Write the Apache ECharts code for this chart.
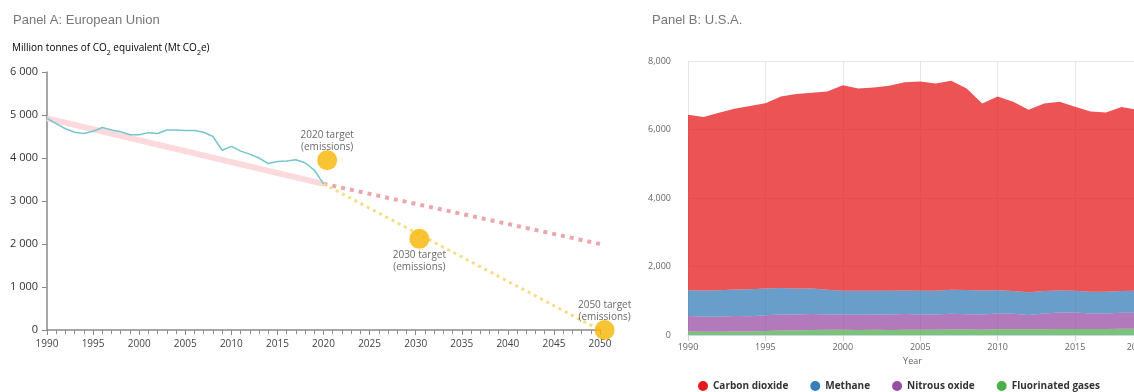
<!DOCTYPE html>
<html>
<head>
<meta charset="utf-8">
<script src="https://cdn.jsdelivr.net/npm/echarts@6/dist/echarts.min.js"></script>
<style>
  html, body { margin: 0; padding: 0; background: #fff; }
  #chart { width: 1134px; height: 392px; }
</style>
</head>
<body>
<div id="chart"></div>
<script>
// Panel A: EU emissions (Mt CO2e)
const euYears = [1990,1991,1992,1993,1994,1995,1996,1997,1998,1999,2000,2001,2002,2003,2004,2005,2006,2007,2008,2009,2010,2011,2012,2013,2014,2015,2016,2017,2018,2019,2020]
const euEmissions = [4920,4800,4680,4600,4570,4620,4710,4650,4610,4540,4540,4590,4570,4650,4650,4640,4640,4600,4500,4180,4270,4160,4090,4000,3870,3920,3930,3960,3890,3720,3400]
const pastTrend = [[1990, 4920], [2020, 3400]]
const trendToTarget = [[2020, 3400], [2050, 2000]]
const targetPath = [[2020, 3400], [2050, 0]]
const targets = [
  { year: 2020.4, value: 3950, label: '2020 target\n(emissions)', pos: 'top' },
  { year: 2030.4, value: 2120, label: '2030 target\n(emissions)', pos: 'bottom' },
  { year: 2050.5, value: 0, label: '2050 target\n(emissions)', pos: 'top' }
]

// Panel B: USA emissions by gas
const usYears = ['1990','1991','1992','1993','1994','1995','1996','1997','1998','1999','2000','2001','2002','2003','2004','2005','2006','2007','2008','2009','2010','2011','2012','2013','2014','2015','2016','2017','2018','2019']
const fluorinated = [100,98,95,100,105,120,128,135,148,150,152,148,150,148,152,150,152,158,158,155,165,168,170,170,175,175,175,178,180,182]
const nitrous = [453,442,435,455,445,460,472,465,462,450,443,442,445,447,463,445,448,462,447,445,460,452,415,460,485,480,455,452,470,468]
const methane = [757,760,780,770,785,775,775,760,745,720,700,705,700,695,685,695,695,700,710,700,680,665,660,655,640,635,630,630,635,640]
const carbon = [5121,5064,5180,5281,5348,5415,5590,5673,5716,5790,6000,5902,5931,5985,6082,6110,6047,6100,5882,5460,5660,5525,5332,5475,5510,5374,5267,5240,5370,5287]

const chart = echarts.init(document.getElementById('chart'))

const spaceThousands = v => String(v).replace(/\B(?=(\d{3})+(?!\d))/g, ' ')
const commaThousands = v => String(v).replace(/\B(?=(\d{3})+(?!\d))/g, ',')

function areaSeries(name, data, color) {
  return {
    name: name,
    type: 'line',
    stack: 'us',
    xAxisIndex: 1,
    yAxisIndex: 1,
    data: data,
    symbol: 'none',
    color: color,
    lineStyle: { width: 0 },
    areaStyle: { color: color, opacity: 0.75 },
    silent: true
  }
}

chart.setOption({
  animation: false,
  textStyle: { fontFamily: '"Open Sans", sans-serif' },
  title: [
    { text: 'Panel A: European Union', left: 8, top: 9, textStyle: { fontFamily: '"Liberation Sans", Arial', fontSize: 13, fontWeight: 'normal', color: '#777' } },
    { text: 'Panel B: U.S.A.', left: 647, top: 9, textStyle: { fontFamily: '"Liberation Sans", Arial', fontSize: 13, fontWeight: 'normal', color: '#777' } }
  ],
  graphic: [{
    type: 'text',
    left: 12,
    top: 43,
    style: {
      text: '{a|Million tonnes of CO}{s|2}{a| equivalent (Mt CO}{s|2}{a|e)}',
      rich: {
        a: { fontFamily: '"Open Sans", sans-serif', fontSize: 10, color: '#222', lineHeight: 14, verticalAlign: 'bottom' },
        s: { fontFamily: '"Open Sans", sans-serif', fontSize: 7, color: '#222', lineHeight: 10, verticalAlign: 'bottom', padding: [0, 0, -3, 0] }
      }
    }
  }],
  legend: {
    data: ['Carbon dioxide', 'Methane', 'Nitrous oxide', 'Fluorinated gases'],
    left: 693,
    top: 376,
    icon: 'circle',
    itemWidth: 10,
    itemHeight: 10,
    itemGap: 22,
    textStyle: { fontSize: 10, fontWeight: 'bold', color: '#333' }
  },
  grid: [
    { left: 47, right: 534, top: 72, bottom: 62, outerBoundsMode: 'none' },
    { left: 688, right: -3, top: 61, bottom: 57, outerBoundsMode: 'none' }
  ],
  xAxis: [
    {
      gridIndex: 0,
      type: 'value',
      min: 1990,
      max: 2050,
      interval: 5,
      axisLine: { lineStyle: { color: '#8a8a8a', width: 1.5 } },
      axisTick: { show: true, length: 5, lineStyle: { color: '#8a8a8a' } },
      minorTick: { show: true, splitNumber: 5, length: 4, lineStyle: { color: '#8a8a8a' } },
      splitLine: { show: false },
      axisLabel: { color: '#444', fontSize: 10, margin: 9, formatter: v => String(v) }
    },
    {
      gridIndex: 1,
      type: 'category',
      data: usYears,
      boundaryGap: false,
      name: 'Year',
      nameLocation: 'middle',
      nameGap: 22,
      nameTextStyle: { color: '#666', fontSize: 9 },
      axisLine: { lineStyle: { color: '#ccd6eb' } },
      axisTick: { show: true, length: 6, interval: i => i % 5 === 0, lineStyle: { color: '#ccd6eb' } },
      splitLine: { show: true, interval: i => i % 5 === 0, lineStyle: { color: '#e6e6e6' } },
      axisLabel: { color: '#666', fontSize: 9, margin: 8, interval: i => i % 5 === 0 || i === usYears.length - 1 }
    }
  ],
  yAxis: [
    {
      gridIndex: 0,
      type: 'value',
      min: 0,
      max: 6000,
      interval: 1000,
      axisLine: { show: true, lineStyle: { color: '#8a8a8a', width: 1.5 } },
      axisTick: { show: true, length: 5, lineStyle: { color: '#8a8a8a' } },
      splitLine: { show: false },
      axisLabel: { color: '#333', fontSize: 11, margin: 9, formatter: spaceThousands }
    },
    {
      gridIndex: 1,
      type: 'value',
      min: 0,
      max: 8000,
      interval: 2000,
      splitLine: { lineStyle: { color: '#e6e6e6' } },
      axisLabel: { color: '#666', fontSize: 9, margin: 17, formatter: commaThousands }
    }
  ],
  series: [
    {
      type: 'line', data: pastTrend, symbol: 'none', silent: true,
      lineStyle: { color: '#fbd9dc', width: 6 }, z: 1
    },
    {
      type: 'line', data: trendToTarget, symbol: 'none', silent: true,
      lineStyle: { color: '#eba7ae', width: 4, type: [4, 5] }, z: 1
    },
    {
      type: 'line', data: targetPath, symbol: 'none', silent: true,
      lineStyle: { color: '#f5dd86', width: 3, type: [3, 4] }, z: 1
    },
    {
      type: 'line', data: euYears.map((y, i) => [y, euEmissions[i]]), symbol: 'none', silent: true,
      lineStyle: { color: '#76c5cf', width: 1.5 }, z: 2
    },
    {
      type: 'scatter',
      data: targets.map(t => ({
        value: [t.year, t.value],
        label: { show: true, position: t.pos, formatter: t.label, distance: t.pos === 'top' ? -3 : 0 }
      })),
      symbolSize: 20,
      clip: false,
      silent: true,
      itemStyle: { color: '#f7b500' },
      label: { color: '#444', fontSize: 10, lineHeight: 12 },
      z: 3
    },
    areaSeries('Fluorinated gases', fluorinated, '#4daf4a'),
    areaSeries('Nitrous oxide', nitrous, '#984ea3'),
    areaSeries('Methane', methane, '#377eb8'),
    areaSeries('Carbon dioxide', carbon, '#e41a1c')
  ]
})
</script>
</body>
</html>
